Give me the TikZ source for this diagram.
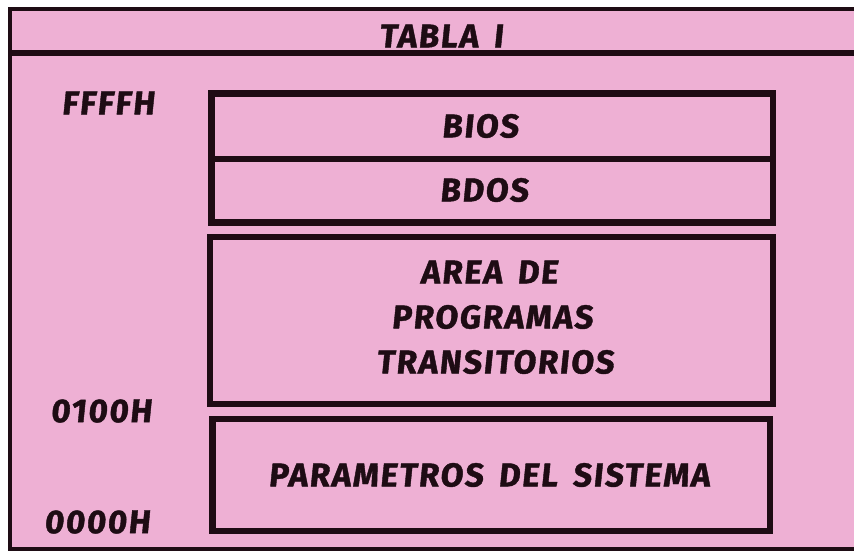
\documentclass[tikz,border=0pt]{standalone}
\usepackage{fontspec}
\newfontfamily\pix[FakeSlant=0.1,FakeBold=1.2,LetterSpace=5,WordSpace=1.6]{Fira Sans}
\definecolor{paper}{RGB}{238,176,212}
\definecolor{ink}{RGB}{30,12,20}
\begin{document}
\begin{tikzpicture}[x=1pt,y=-1pt,
  frame/.style={draw=ink,line width=4pt},
  boxline/.style={draw=ink,line width=6.5pt},
  lbl/.style={font=\pix\bfseries\fontsize{33}{33}\selectfont,text=ink,inner sep=0pt,anchor=center}]
\useasboundingbox (0,0) rectangle (854,551);
\fill[white] (0,0) rectangle (854,551);
\fill[paper] (8,7) rectangle (854,551);
% outer frame
\draw[frame] (854,9) -- (10,9) -- (10,549) -- (854,549);
\draw[ink,line width=6pt] (10,53.5) -- (854,53.5);
% boxes
\draw[boxline] (211.5,93.5) rectangle (773,222.5);
\draw[boxline] (211.5,159) -- (773,159);
\draw[boxline] (210,237) rectangle (773,404);
\draw[boxline] (212.5,419) rectangle (770,531);
% texts
\node[lbl] (title) at (441,36) {TABLA I};
\node[lbl] (ffff) at (108,103) {FFFFH};
\node[lbl] (o100) at (101,411) {0100H};
\node[lbl] (o000) at (97,522) {0000H};
\node[lbl] (bios) at (480,126) {BIOS};
\node[lbl] (bdos) at (484,190) {BDOS};
\node[lbl] (area) at (489,272) {AREA DE};
\node[lbl] (prog) at (492,317) {PROGRAMAS};
\node[lbl] (tran) at (495,362) {TRANSITORIOS};
\node[lbl] (param) at (489,475) {PARAMETROS DEL SISTEMA};
\end{tikzpicture}
\end{document}
